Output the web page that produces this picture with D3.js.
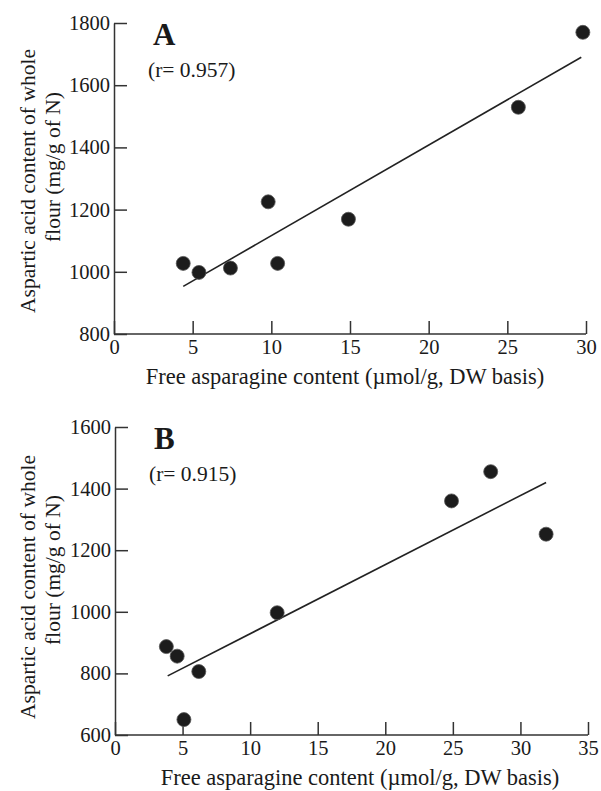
<!DOCTYPE html>
<html>
<head>
<meta charset="UTF-8">
<title>Asparagine vs aspartic acid</title>
<script src="https://d3js.org/d3.v7.min.js"></script>
<style>
    body { margin: 0; background: #fff; }
    svg { display: block; }
    .axis path, .axis line { stroke: #333; stroke-width: 1.5px; }
</style>
</head>
<body>
<svg id="chart" width="601" height="791"></svg>
<script>
    // panel A data
    const aspA = [4.4, 5.4, 7.4, 9.8, 10.4, 14.9, 25.7, 29.8];
    const aspAcidA = [1027, 998, 1012, 1225, 1027, 1169, 1529, 1770];
    const fitA = [[4.4, 953], [29.7, 1690]];
    const xTicksA = [0, 5, 10, 15, 20, 25, 30];
    const yTicksA = [800, 1000, 1200, 1400, 1600, 1800];

    // panel B data
    const aspB = [3.8, 4.6, 6.2, 5.1, 12.0, 24.9, 27.8, 31.9];
    const aspAcidB = [887, 856, 806, 650, 997, 1360, 1455, 1252];
    const fitB = [[3.9, 792], [31.9, 1420]];
    const xTicksB = [0, 5, 10, 15, 20, 25, 30, 35];
    const yTicksB = [600, 800, 1000, 1200, 1400, 1600];

    const xTitle = "Free asparagine content (\u00b5mol/g, DW basis)";
    const yTitle1 = "Aspartic acid content of whole";
    const yTitle2 = "flour (mg/g of N)";

    const serif = "'Liberation Serif', 'Times New Roman', 'DejaVu Serif', serif";
    const svg = d3.select("#chart");
    const fmt = d3.format("d");

    function label(sel, size) {
        return sel.style("font-family", serif).style("font-size", size + "px").style("fill", "#1a1a1a");
    }

    function drawPanel(p) {
        const g = svg.append("g");
        const x = d3.scaleLinear().domain(p.xDomain).range(p.xRange);
        const y = d3.scaleLinear().domain(p.yDomain).range(p.yRange);

        // x axis, ticks pointing up
        g.append("g")
            .attr("class", "axis")
            .attr("transform", `translate(0,${p.yRange[0]})`)
            .call(d3.axisBottom(x).tickValues(p.xTicks).tickFormat(fmt).tickSizeInner(-13).tickSizeOuter(0).tickPadding(5))
            .call(s => s.select(".domain").attr("d", `M${p.xRange[0]},0H${p.xRange[1]}`))
            .call(s => label(s.selectAll("text"), 20.5));

        // y axis, ticks pointing right
        g.append("g")
            .attr("class", "axis")
            .attr("transform", `translate(${p.xRange[0]},0)`)
            .call(d3.axisLeft(y).tickValues(p.yTicks).tickFormat(fmt).tickSizeInner(-13).tickSizeOuter(0).tickPadding(4))
            .call(s => label(s.selectAll("text"), 20.5));

        // fitted line
        g.append("path")
            .datum(p.fit)
            .attr("fill", "none")
            .attr("stroke", "#222")
            .attr("stroke-width", 1.6)
            .attr("d", d3.line().x(d => x(d[0])).y(d => y(d[1])));

        // points
        g.selectAll("circle")
            .data(p.xs.map((v, i) => [v, p.ys[i]]))
            .join("circle")
            .attr("cx", d => x(d[0]))
            .attr("cy", d => y(d[1]))
            .attr("r", 7)
            .attr("fill", "#1c1c1c")
            .attr("stroke", "#555")
            .attr("stroke-width", 0.8);

        // panel letter and r value
        label(g.append("text"), 31)
            .attr("x", p.xRange[0] + 39)
            .attr("y", p.yRange[1] + 22)
            .style("font-weight", "bold")
            .text(p.letter);

        label(g.append("text"), 21.5)
            .attr("x", p.xRange[0] + 34)
            .attr("y", p.yRange[1] + 54)
            .text(p.rText);

        // axis titles
        label(g.append("text"), 22.5)
            .attr("x", p.xTitleX)
            .attr("y", p.yRange[0] + 50)
            .attr("text-anchor", "middle")
            .text(xTitle);

        label(g.append("text"), 21.5)
            .attr("transform", `translate(35,${p.yTitleC1}) rotate(-90)`)
            .attr("text-anchor", "middle")
            .text(yTitle1);

        label(g.append("text"), 21.5)
            .attr("transform", `translate(60,${p.yTitleC2}) rotate(-90)`)
            .attr("text-anchor", "middle")
            .text(yTitle2);
    }

    drawPanel({
        letter: "A", rText: "(r= 0.957)",
        xs: aspA, ys: aspAcidA, fit: fitA,
        xTicks: xTicksA, yTicks: yTicksA,
        xDomain: [0, 30], yDomain: [800, 1800],
        xRange: [114, 586], yRange: [334, 23],
        xTitleX: 345, yTitleC1: 181, yTitleC2: 167
    });

    drawPanel({
        letter: "B", rText: "(r= 0.915)",
        xs: aspB, ys: aspAcidB, fit: fitB,
        xTicks: xTicksB, yTicks: yTicksB,
        xDomain: [0, 35], yDomain: [600, 1600],
        xRange: [115, 588], yRange: [735, 427],
        xTitleX: 360, yTitleC1: 587, yTitleC2: 570
    });
</script>
</body>
</html>
